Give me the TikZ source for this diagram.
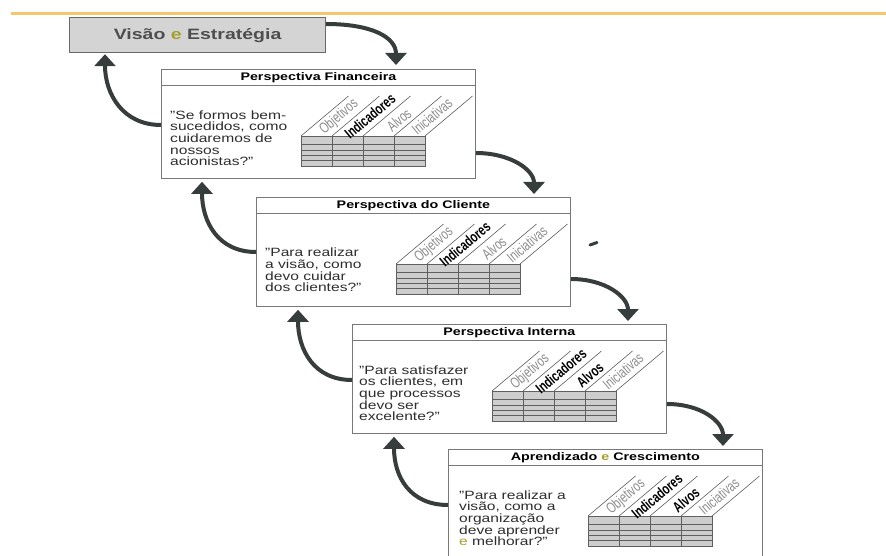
\documentclass[tikz,border=0pt]{standalone}
\usepackage{fontspec}
\setmainfont[FakeStretch=1.3]{Liberation Sans}
\newfontfamily\colfont[FakeStretch=0.72]{Liberation Sans}
\usetikzlibrary{arrows.meta,calc}
\definecolor{toporange}{RGB}{246,198,110}
\definecolor{visfill}{RGB}{212,212,212}
\definecolor{visborder}{RGB}{105,105,105}
\definecolor{vistext}{RGB}{78,78,78}
\definecolor{olivee}{RGB}{165,160,45}
\definecolor{boxborder}{RGB}{120,120,120}
\definecolor{quotetext}{RGB}{45,45,45}
\definecolor{flowgray}{RGB}{55,60,60}
\definecolor{gridfill}{RGB}{205,205,205}
\definecolor{gridline}{RGB}{95,95,95}
\definecolor{collight}{RGB}{140,140,140}

% grade 3D com os quatro rotulos; #1 = caixa, #2 = estilo de "Alvos"
\newcommand{\gradepersp}[2]{%
  \begin{scope}[shift={($(#1.north west)+(140,67)$)}]
    \fill[gridfill] (0,0) rectangle (124,30);
    \foreach \yy in {8,14,19,24}
      \draw[gridrow] (0,\yy) -- (124,\yy);
    \foreach \xx in {31,62,93}
      \draw[gridrow] (\xx,0) -- (\xx,30);
    \draw[gridrow] (0,0) rectangle (124,30);
    \foreach \xx in {0,31,62,93,124}
      \draw[gridrow] (\xx,0) -- ++(47.5,-40);
    \node[collabel] (#1-obj) at (38,-19) {Objetivos};
    \node[collabel, colbold] (#1-ind) at (69,-20) {Indicadores};
    \node[collabel, #2] (#1-alv) at (98,-16) {Alvos};
    \node[collabel] (#1-ini) at (131,-20) {Iniciativas};
  \end{scope}}

\begin{document}
\begin{tikzpicture}[
  x=1pt, y=-1pt,
  visbox/.style={
    draw=visborder,
    fill=visfill,
    line width=1.2pt,
    anchor=north west,
    minimum width=256pt,
    minimum height=35pt,
    text=vistext,
    font=\bfseries\fontsize{15}{17}\selectfont
  },
  perspbox/.style={
    draw=boxborder,
    fill=white,
    line width=0.8pt,
    anchor=north west,
    minimum width=314pt,
    minimum height=109pt
  },
  titulo/.style={font=\bfseries\fontsize{11}{13}\selectfont, inner sep=0pt},
  pergunta/.style={
    anchor=south west,
    align=left,
    inner sep=0pt,
    text=quotetext,
    font=\fontsize{12}{11.6}\selectfont
  },
  gridrow/.style={draw=gridline, line width=0.6pt},
  collabel/.style={rotate=40, inner sep=0pt, text=collight,
    font=\colfont\fontsize{15}{15}\selectfont},
  colbold/.style={text=black, font=\colfont\bfseries\fontsize{15}{15}\selectfont},
  alvoslight/.style={text=collight},
  flow/.style={draw=flowgray, line width=4pt,
    -{Triangle[width=21pt,length=12pt]}}
]
  \useasboundingbox (0,0) rectangle (886,556);
  \clip (0,0) rectangle (886,556);

  % linha do topo
  \draw[toporange, line width=2.5pt] (11,13.5) -- (886,13.5);

  % Visao e Estrategia
  \node[visbox] (vis) at (69,17) {Vis\~ao \textcolor{olivee}{e} Estrat\'egia};

  % Perspectivas
  \node[perspbox] (fin) at (161,69) {};
  \node[perspbox] (cli) at (256,197) {};
  \node[perspbox] (int) at (352,324) {};
  \node[perspbox] (apr) at (448,449) {};

  \foreach \bx in {fin,cli,int,apr}
    \draw[draw=boxborder, line width=0.8pt] ($(\bx.north west)+(0,16)$) -- ($(\bx.north east)+(0,16)$);

  \node[titulo] (fin-t) at ($(fin.north)+(0,8.5)$) {Perspectiva Financeira};
  \node[titulo] (cli-t) at ($(cli.north)+(0,8.5)$) {Perspectiva do Cliente};
  \node[titulo] (int-t) at ($(int.north)+(0,8.5)$) {Perspectiva Interna};
  \node[titulo] (apr-t) at ($(apr.north)+(0,8.5)$) {Aprendizado \textcolor{olivee}{e} Crescimento};

  \node[pergunta] (fin-q) at ($(fin.north west)+(9,97)$) {"Se formos bem-\\sucedidos, como\\cuidaremos de\\nossos\\acionistas?"};
  \node[pergunta] (cli-q) at ($(cli.north west)+(9,95)$) {"Para realizar\\a vis\~ao, como\\devo cuidar\\dos clientes?"};
  \node[pergunta] (int-q) at ($(int.north west)+(7,97)$) {"Para satisfazer\\os clientes, em\\que processos\\devo ser\\excelente?"};
  \node[pergunta] (apr-q) at ($(apr.north west)+(11,97)$) {"Para realizar a\\vis\~ao, como a\\organiza\c{c}\~ao\\deve aprender\\\textcolor{olivee}{e} melhorar?"};

  \gradepersp{fin}{alvoslight}
  \gradepersp{cli}{alvoslight}
  \gradepersp{int}{colbold}
  \gradepersp{apr}{colbold}

  % setas para baixo
  \draw[flow] ($(vis.north east)+(0,7)$) .. controls +(45,0) and +(0,-28) .. ($(fin.north west)+(235,-4)$);
  \draw[flow] ($(fin.north east)+(0,84)$) .. controls +(35,0) and +(0,-24) .. ($(cli.north west)+(278,-3)$);
  \draw[flow] ($(cli.north east)+(0,82)$) .. controls +(35,0) and +(0,-24) .. ($(int.north west)+(276,-3)$);
  \draw[flow] ($(int.north east)+(0,80)$) .. controls +(35,0) and +(0,-24) .. ($(apr.north west)+(275,-3)$);

  % setas para cima
  \draw[flow] ($(fin.north west)+(0,56)$) .. controls +(-38,0) and +(0,40) .. ($(vis.south west)+(36,1)$);
  \draw[flow] ($(cli.north west)+(0,55)$) .. controls +(-38,0) and +(0,40) .. ($(fin.south west)+(41,3)$);
  \draw[flow] ($(int.north west)+(0,56)$) .. controls +(-38,0) and +(0,40) .. ($(cli.south west)+(42,3)$);
  \draw[flow] ($(apr.north west)+(0,56)$) .. controls +(-38,0) and +(0,40) .. ($(int.south west)+(42,3)$);

  % marca solta
  \draw[flowgray, line width=3pt, line cap=round] (590,245) -- (597,242.5);
\end{tikzpicture}
\end{document}
